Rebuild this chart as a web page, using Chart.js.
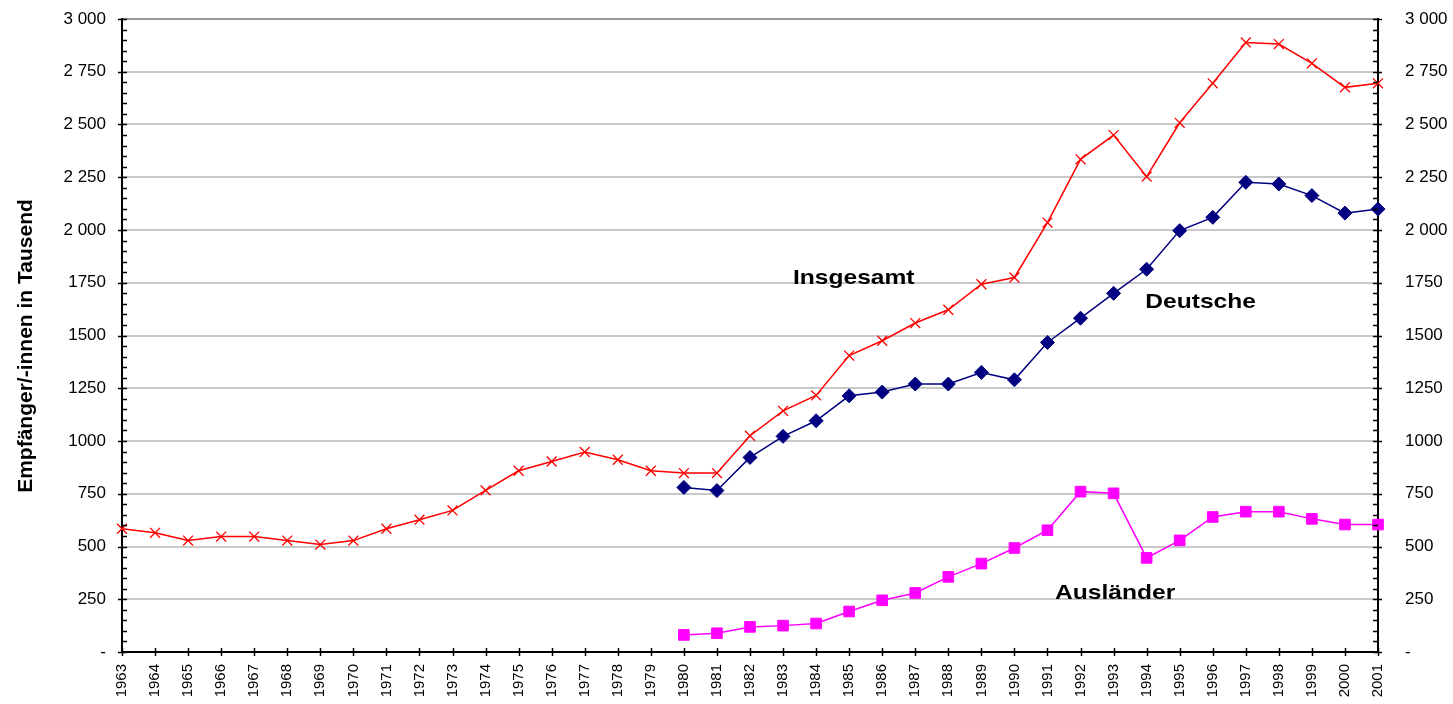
<!DOCTYPE html>
<html>
<head>
<meta charset="utf-8">
<script src="https://cdn.jsdelivr.net/npm/chart.js@4.4.0/dist/chart.umd.min.js"></script>
<style>
  html, body { margin: 0; padding: 0; background: #fff; }
  #wrap { width: 1453px; height: 704px; }
</style>
</head>
<body>
<div id="wrap"><canvas id="chart" width="1453" height="704"></canvas></div>
<script>
const years = [];
for (let y = 1963; y <= 2001; y++) years.push(String(y));

// Empfänger/-innen in Tausend
const insgesamt = [584, 565, 528, 547, 547, 528, 509, 528, 584, 627, 671, 766, 859, 903, 948, 911, 859, 848,
                   848, 1025, 1143, 1216, 1405, 1475, 1559, 1622, 1743, 1775, 2035, 2335, 2450, 2253, 2508,
                   2695, 2889, 2881, 2790, 2676, 2695];
// ab 1980
const deutsche = [780, 765, 922, 1022, 1096, 1214, 1232, 1270, 1270, 1325, 1290, 1467, 1582, 1700, 1814,
                  1997, 2060, 2226, 2218, 2163, 2080, 2099];
const auslaender = [81, 89, 119, 125, 135, 192, 245, 280, 356, 419, 493, 577, 760, 752, 446, 529, 640, 665,
                    665, 631, 604, 604];

const yTickLabels = ['-', '250', '500', '750', '1000', '1250', '1500', '1750', '2 000', '2 250', '2 500', '2 750', '3 000'];

const seriesNames = ['Insgesamt', 'Deutsche', 'Ausländer'];
const axisTitle = 'Empfänger/-innen in Tausend';

const pad = (arr) => new Array(years.length - arr.length).fill(null).concat(arr);

const FONT = '"Liberation Sans", Arial, sans-serif';

// bold labels + minor/major tick marks like the Excel original
const decor = {
    id: 'decor',
    afterDraw(chart) {
        const ctx = chart.ctx;
        const xs = chart.scales.x, yl = chart.scales.y;
        const area = chart.chartArea;
        ctx.save();
        ctx.strokeStyle = '#000';
        ctx.lineWidth = 1.5;
        ctx.beginPath();
        for (let v = 0; v <= 3000; v += 50) {
            const py = Math.round(yl.getPixelForValue(v)) + 0.5;
            if (v % 250 === 0) {
                ctx.moveTo(area.left - 4, py); ctx.lineTo(area.left + 5, py);
                ctx.moveTo(area.right - 5, py); ctx.lineTo(area.right + 4, py);
            } else {
                ctx.moveTo(area.left, py); ctx.lineTo(area.left + 5, py);
                ctx.moveTo(area.right - 5, py); ctx.lineTo(area.right, py);
            }
        }
        years.forEach((_, i) => {
            const px = Math.round(xs.getPixelForValue(i)) + 0.5;
            ctx.moveTo(px, area.bottom - 4); ctx.lineTo(px, area.bottom + 4);
        });
        ctx.stroke();

        // series labels
        ctx.fillStyle = '#000';
        ctx.font = 'bold 21px ' + FONT;
        ctx.textBaseline = 'middle';
        ctx.textAlign = 'left';
        const labelAt = [[1983.3, 1772], [1993.96, 1659], [1991.23, 280]];
        seriesNames.forEach((name, k) => {
            const px = xs.getPixelForValue(labelAt[k][0] - 1963);
            const py = yl.getPixelForValue(labelAt[k][1]);
            ctx.save();
            ctx.translate(px, py);
            ctx.scale(1.17, 1);
            ctx.fillText(name, 0, 0);
            ctx.restore();
        });

        // axis title
        ctx.save();
        ctx.translate(26, 346);
        ctx.rotate(-Math.PI / 2);
        ctx.textAlign = 'center';
        ctx.fillText(axisTitle, 0, 0);
        ctx.restore();
        ctx.restore();
    }
};

const gridColor = (c) => c.tick && c.tick.value === 3000 ? '#9a9a9a' : '#c8c8c8';

new Chart(document.getElementById('chart').getContext('2d'), {
    type: 'line',
    data: {
        labels: years,
        datasets: [{
            label: seriesNames[0],
            data: insgesamt,
            borderColor: '#ff0000',
            backgroundColor: '#ff0000',
            borderWidth: 1.5,
            pointStyle: 'crossRot',
            pointRadius: 7,
            pointBorderWidth: 1.3,
            tension: 0
        }, {
            label: seriesNames[1],
            data: pad(deutsche),
            borderColor: '#000080',
            backgroundColor: '#000080',
            borderWidth: 1.5,
            pointStyle: 'rectRot',
            pointRadius: 7,
            pointBorderWidth: 1,
            tension: 0
        }, {
            label: seriesNames[2],
            data: pad(auslaender),
            borderColor: '#ff00ff',
            backgroundColor: '#ff00ff',
            borderWidth: 1.5,
            pointStyle: 'rect',
            pointRadius: 7.5,
            pointBorderWidth: 1,
            tension: 0
        }]
    },
    options: {
        responsive: false,
        animation: false,
        layout: { padding: { top: 19, left: 0, right: 0, bottom: 0 } },
        plugins: {
            legend: { display: false },
            tooltip: { enabled: false }
        },
        scales: {
            x: {
                offset: false,
                grid: { drawOnChartArea: false, drawTicks: false },
                border: { color: '#000', width: 2 },
                ticks: {
                    autoSkip: false,
                    minRotation: 90,
                    maxRotation: 90,
                    padding: 12,
                    color: '#000',
                    font: { family: FONT, size: 15 }
                },
                afterFit: (s) => { s.height = 52; s.paddingLeft = 0; s.paddingRight = 0; }
            },
            y: {
                position: 'left',
                min: 0,
                max: 3000,
                grid: { color: gridColor, lineWidth: 2, drawTicks: false },
                border: { color: '#000', width: 2 },
                ticks: {
                    stepSize: 250,
                    padding: 16,
                    color: '#000',
                    font: { family: FONT, size: 17 },
                    callback: (v) => yTickLabels[v / 250]
                },
                afterFit: (s) => { s.width = 122; s.paddingTop = 0; s.paddingBottom = 0; }
            },
            y2: {
                position: 'right',
                min: 0,
                max: 3000,
                grid: { drawOnChartArea: false, drawTicks: false },
                border: { color: '#000', width: 2 },
                ticks: {
                    stepSize: 250,
                    padding: 27,
                    color: '#000',
                    font: { family: FONT, size: 17 },
                    callback: (v) => yTickLabels[v / 250]
                },
                afterFit: (s) => { s.width = 75; s.paddingTop = 0; s.paddingBottom = 0; }
            }
        }
    },
    plugins: [decor]
});
</script>
</body>
</html>
